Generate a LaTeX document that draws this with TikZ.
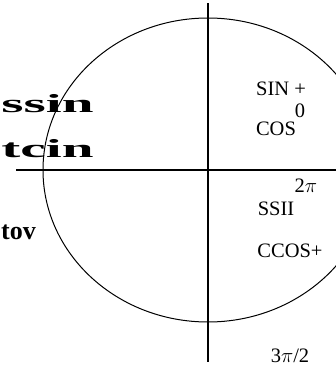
\documentclass[tikz,border=0pt]{standalone}
\usepackage{fontspec}
\setmainfont{Liberation Serif}
\usepackage{tikz}
\usetikzlibrary{positioning}
\tikzset{
  axis/.style={draw=black, line width=1.2pt},
  ring/.style={draw=black, line width=1pt},
  lbl/.style={font=\fontsize{20.5}{22}\selectfont, inner sep=0pt},
  blbl/.style={font=\fontsize{26}{28}\selectfont\bfseries, inner sep=0pt},
  smear/.style={font=\fontsize{26}{28}\selectfont\bfseries, inner sep=0pt,
    xscale=2.2, yscale=1.0},
}

\begin{document}
\begin{tikzpicture}[x=1pt, y=-1pt]
    \useasboundingbox (0,0) rectangle (336,380);
    \coordinate (o)     at (208,170);
    \coordinate (top)   at (208,3);
    \coordinate (bot)   at (208,362);
    \coordinate (left)  at (16,170);
    \coordinate (right) at (336,170);

    \begin{scope}
      \clip (0,0) rectangle (336,380);
      \draw[ring] (o) ellipse [x radius=165, y radius=152];
    \end{scope}
    \draw[axis] (top)  -- (bot);
    \draw[axis] (left) -- (right);

    \node[lbl] (sinp)  at (281,89)  {SIN +};
    \node[lbl] (zero)  at (300,111) {0};
    \node[lbl] (cosp)  at (276,129) {COS};
    \node[lbl] (twopi) at (306,186) {2$\pi$};
    \node[lbl] (ssin)  at (276,209) {SSII};
    \node[lbl] (ccos)  at (290,251) {CCOS+};
    \node[lbl] (tpi)   at (290,356) {3$\pi$/2};

    \node[smear, anchor=west] (rowa) at (1,104) {ssin};
    \node[smear, anchor=west] (rowb) at (1,149) {tcin};
    \node[blbl,  anchor=west] (tov)  at (1,232) {tov};
  \end{tikzpicture}
\end{document}
